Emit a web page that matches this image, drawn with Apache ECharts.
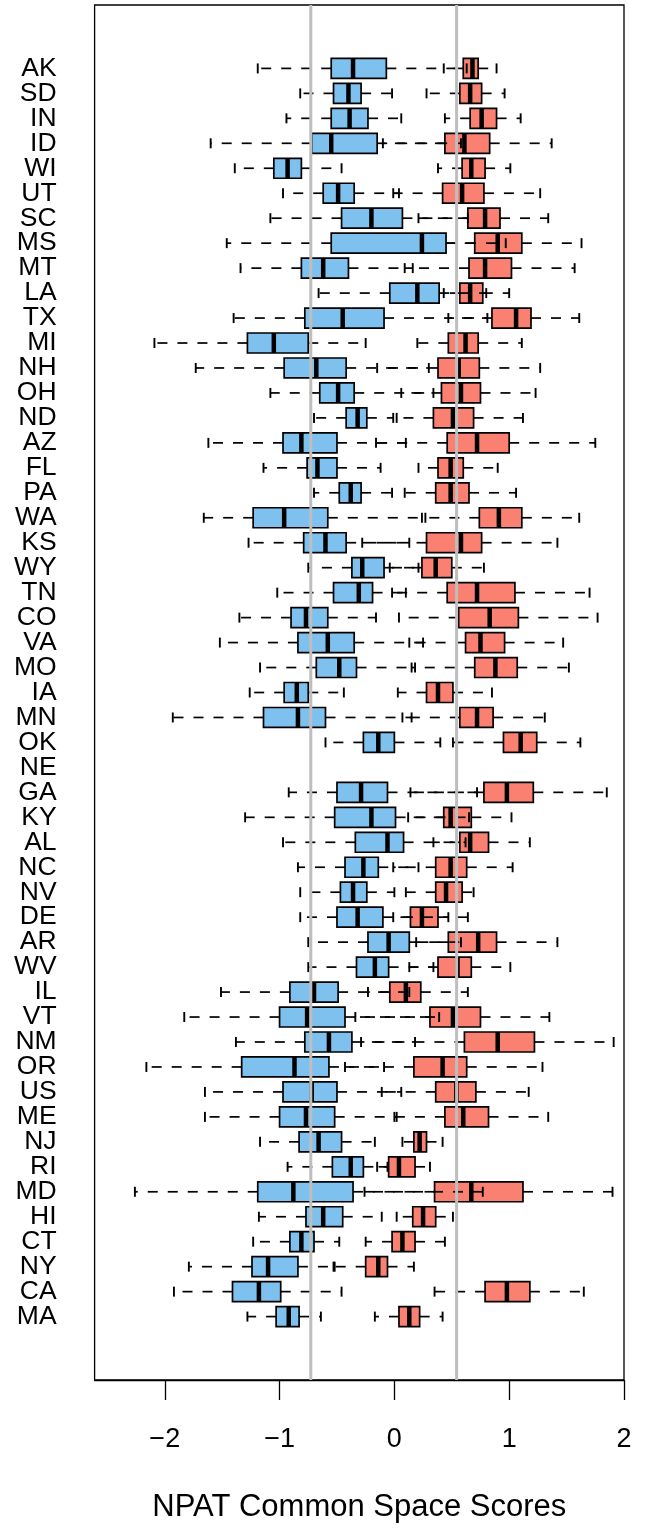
<!DOCTYPE html>
<html><head><meta charset="utf-8">
<script src="https://cdn.jsdelivr.net/npm/echarts@6/dist/echarts.min.js"></script>
<style>html,body{margin:0;padding:0;background:#fff}#c{width:651px;height:1534px}</style>
</head><body><div id="c"></div>
<script>
const states = ['AK','SD','IN','ID','WI','UT','SC','MS','MT','LA','TX','MI','NH','OH','ND','AZ','FL','PA','WA','KS','WY','TN','CO','VA','MO','IA','MN','OK','NE','GA','KY','AL','NC','NV','DE','AR','WV','IL','VT','NM','OR','US','ME','NJ','RI','MD','HI','CT','NY','CA','MA'];
// [lower whisker, Q1, median, Q3, upper whisker]
const blueStats = [
[-1.19,-0.55,-0.36,-0.07,0.63],[-0.82,-0.53,-0.40,-0.29,-0.02],[-0.94,-0.55,-0.39,-0.23,0.06],[-1.60,-0.72,-0.55,-0.15,0.58],[-1.39,-1.05,-0.93,-0.81,-0.46],
[-0.97,-0.62,-0.49,-0.35,0.04],[-1.08,-0.46,-0.20,0.07,0.64],[-1.46,-0.55,0.24,0.45,0.97],[-1.34,-0.81,-0.62,-0.40,0.16],[-0.66,-0.04,0.20,0.39,0.80],
[-1.40,-0.78,-0.45,-0.09,0.81],[-2.09,-1.28,-1.05,-0.75,-0.25],[-1.73,-0.96,-0.68,-0.42,0.30],[-1.08,-0.65,-0.49,-0.35,0.34],[-0.70,-0.42,-0.32,-0.24,-0.01],
[-1.62,-0.97,-0.81,-0.50,0.10],[-1.14,-0.76,-0.67,-0.50,-0.12],[-0.70,-0.48,-0.38,-0.29,-0.02],[-1.66,-1.23,-0.96,-0.58,0.27],[-1.27,-0.79,-0.60,-0.42,0.13],
[-0.75,-0.37,-0.28,-0.09,0.21],[-1.02,-0.53,-0.31,-0.19,0.10],[-1.35,-0.90,-0.77,-0.58,-0.16],[-1.52,-0.84,-0.58,-0.35,0.25],[-1.17,-0.68,-0.48,-0.33,0.18],
[-1.26,-0.96,-0.85,-0.75,-0.44],[-1.93,-1.14,-0.84,-0.60,0.15],[-0.60,-0.27,-0.14,0.00,0.40],null,[-0.92,-0.50,-0.29,-0.06,0.72],
[-1.30,-0.52,-0.20,0.01,0.65],[-0.97,-0.34,-0.06,0.08,0.62],[-0.84,-0.43,-0.27,-0.14,0.21],[-0.82,-0.47,-0.36,-0.24,0.00],[-0.82,-0.50,-0.32,-0.10,0.47],
[-0.75,-0.23,-0.05,0.13,0.58],[-0.75,-0.33,-0.17,-0.05,0.34],[-1.51,-0.91,-0.70,-0.49,0.13],[-1.83,-1.00,-0.76,-0.43,0.39],[-1.38,-0.78,-0.57,-0.37,0.18],
[-2.16,-1.33,-0.87,-0.57,-0.09],[-1.65,-0.97,-0.72,-0.50,0.06],[-1.65,-1.00,-0.77,-0.52,0.02],[-1.17,-0.83,-0.66,-0.46,-0.17],[-0.93,-0.54,-0.38,-0.27,-0.06],
[-2.26,-1.19,-0.88,-0.36,0.77],[-1.18,-0.77,-0.62,-0.45,-0.11],[-1.23,-0.91,-0.81,-0.70,-0.48],[-1.79,-1.24,-1.10,-0.84,-0.52],[-1.92,-1.41,-1.18,-0.99,-0.46],
[-1.28,-1.03,-0.92,-0.83,-0.64]
];
const redStats = [
[0.43,0.60,0.68,0.73,0.89],[0.28,0.57,0.66,0.76,0.96],[0.44,0.66,0.76,0.89,1.10],[-0.10,0.44,0.61,0.83,1.37],[0.38,0.59,0.67,0.79,1.01],
[-0.01,0.42,0.59,0.78,1.27],[0.21,0.64,0.79,0.92,1.34],[0.34,0.70,0.90,1.11,1.63],[0.09,0.65,0.79,1.02,1.57],[0.43,0.57,0.66,0.77,1.00],
[0.47,0.85,1.06,1.19,1.61],[0.20,0.47,0.62,0.73,1.11],[-0.15,0.38,0.56,0.74,1.27],[0.06,0.41,0.58,0.75,1.23],[0.02,0.34,0.51,0.69,1.12],
[-0.16,0.46,0.72,1.00,1.75],[0.21,0.38,0.49,0.60,0.90],[0.09,0.36,0.49,0.65,1.06],[0.24,0.74,0.91,1.11,1.61],[-0.28,0.28,0.58,0.76,1.42],
[-0.04,0.24,0.36,0.50,0.78],[-0.02,0.46,0.72,1.05,1.70],[0.04,0.56,0.83,1.08,1.77],[0.13,0.62,0.75,0.96,1.47],[0.15,0.70,0.88,1.07,1.52],
[0.03,0.28,0.38,0.51,0.85],[0.07,0.57,0.72,0.86,1.31],[0.51,0.95,1.10,1.24,1.62],null,[0.14,0.78,0.98,1.21,1.85],
[0.12,0.43,0.49,0.67,1.02],[0.34,0.57,0.66,0.82,1.18],[-0.01,0.36,0.49,0.63,1.03],[0.10,0.36,0.45,0.59,0.69],[-0.01,0.14,0.24,0.38,0.64],
[0.19,0.47,0.73,0.89,1.42],[0.13,0.38,0.55,0.67,1.01],[-0.23,-0.04,0.10,0.23,0.64],[-0.34,0.31,0.51,0.75,1.35],[-0.29,0.61,0.90,1.22,1.91],
[-0.43,0.17,0.42,0.63,1.29],[-0.11,0.36,0.54,0.71,1.17],[0.00,0.44,0.60,0.82,1.34],[0.07,0.17,0.22,0.28,0.42],[-0.15,-0.05,0.04,0.18,0.31],
[-0.26,0.35,0.67,1.12,1.90],[0.02,0.16,0.25,0.36,0.51],[-0.25,-0.02,0.07,0.18,0.44],[-0.53,-0.25,-0.14,-0.06,0.17],[0.35,0.79,0.98,1.18,1.65],
[-0.17,0.04,0.13,0.22,0.42]
];
const tickValues = [-2,-1,0,1,2];
const refLines = [-0.728, 0.542];

const n = states.length;
const positions = states.map((s,i)=>n-i);
function toData(stats){
  const out=[];
  stats.forEach((st,i)=>{ if(st) out.push([positions[i]].concat(st)); });
  return out;
}
function makeRender(fill){
  return function(params, api){
    const y = api.value(0);
    const c = v => api.coord([v, y]);
    const unit = api.size([0,1])[1];
    const hb = unit*0.4, hc = unit*0.2;
    const pL=c(api.value(1)), p1=c(api.value(2)), pM=c(api.value(3)), p3=c(api.value(4)), pU=c(api.value(5));
    const yy = pM[1];
    const dash = {stroke:'#000', lineWidth:1.7, lineDash:[10,10], fill:null};
    const solid = {stroke:'#000', lineWidth:1.9};
    return {type:'group', children:[
      {type:'line', shape:{x1:p1[0],y1:yy,x2:pL[0],y2:yy}, style:dash},
      {type:'line', shape:{x1:p3[0],y1:yy,x2:pU[0],y2:yy}, style:dash},
      {type:'line', shape:{x1:pL[0],y1:yy-hc,x2:pL[0],y2:yy+hc}, style:solid},
      {type:'line', shape:{x1:pU[0],y1:yy-hc,x2:pU[0],y2:yy+hc}, style:solid},
      {type:'rect', shape:{x:p1[0], y:yy-hb, width:p3[0]-p1[0], height:2*hb}, style:{fill:fill, stroke:'#000', lineWidth:1.7}},
      {type:'line', shape:{x1:pM[0],y1:yy-hb,x2:pM[0],y2:yy+hb}, style:{stroke:'#000', lineWidth:4.5}}
    ]};
  };
}
const chart = echarts.init(document.getElementById('c'), null, {renderer:'canvas'});
const font = 'Liberation Sans, Arial, Helvetica, sans-serif';
chart.setOption({
  animation:false,
  backgroundColor:'#fff',
  grid:{left:94.6, right:27, top:5, bottom:154, show:true, borderColor:'#000', borderWidth:1.3, backgroundColor:'transparent'},
  xAxis:{type:'value', min:-2.611, max:2.0,
    splitLine:{show:false},
    axisLine:{show:true, onZero:false, lineStyle:{color:'#000', width:1.3}},
    axisTick:{show:true, customValues:tickValues, length:20, lineStyle:{color:'#000', width:1.3}},
    axisLabel:{customValues:tickValues, margin:46, fontSize:27, color:'#000', fontFamily:font,
      showMinLabel:true, showMaxLabel:true,
      formatter:v=>String(v).replace('-','\u2212')},
    name:'NPAT Common Space Scores', nameLocation:'middle', nameGap:112,
    nameTextStyle:{fontSize:31, color:'#000', fontFamily:font}
  },
  yAxis:{type:'value', min:-1.54, max:53.54,
    splitLine:{show:false},
    axisLine:{show:false, onZero:false},
    axisTick:{show:false},
    axisLabel:{show:false}
  },
  series:[
    {type:'custom', name:'red', z:2, renderItem:makeRender('#FA8072'), data:toData(redStats), encode:{x:[1,2,3,4,5], y:0}},
    {type:'custom', name:'blue', z:3, renderItem:makeRender('#7EC0EE'), data:toData(blueStats), encode:{x:[1,2,3,4,5], y:0}},
    {type:'custom', name:'ref', z:4, data:refLines.map(v=>[v, 0]), encode:{x:0,y:1},
      renderItem:function(params, api){
        const cs = params.coordSys;
        const x = api.coord([api.value(0), 0])[0];
        return {type:'line', shape:{x1:x, y1:cs.y, x2:x, y2:cs.y+cs.height}, style:{stroke:'#BEBEBE', lineWidth:3}};
      }},
    {type:'custom', name:'stateLabels', z:5, clip:false, data:positions.map((p,i)=>[0, p, i]), encode:{x:0,y:1},
      renderItem:function(params, api){
        const cs = params.coordSys;
        const py = api.coord([0, api.value(1)])[1];
        return {type:'text', x: cs.x - 38, y: py,
          style:{text: states[api.value(2)], textAlign:'right', textVerticalAlign:'middle',
            fontSize:26.5, fontFamily:font, fill:'#000'}};
      }}
  ]
});
</script></body></html>
